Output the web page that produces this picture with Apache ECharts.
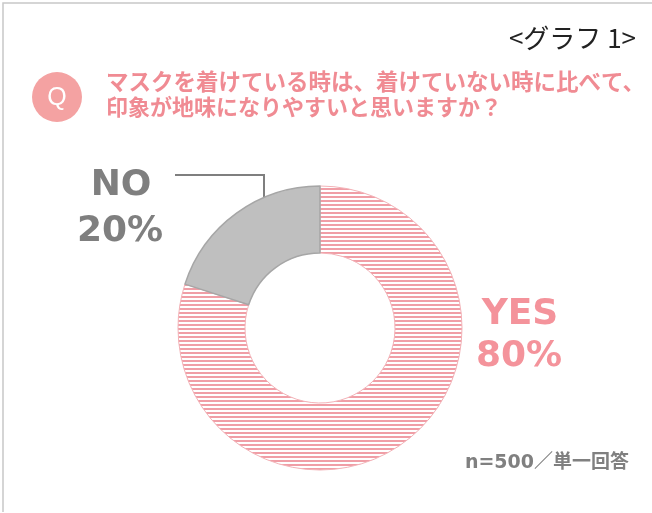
<!DOCTYPE html>
<html><head><meta charset="utf-8">
<script src="https://cdn.jsdelivr.net/npm/echarts@6/dist/echarts.min.js"></script>
<style>html,body{margin:0;padding:0;background:#fff}#c{width:652px;height:513px}</style>
</head><body><div id="c"></div>
<script>
const categories = ['YES', 'NO'];
const values = [80, 20];
const pctLabels = ['80%', '20%'];
const titleLines = ['マスクを着けている時は、着けていない時に比べて、', '印象が地味になりやすいと思いますか？'];
const graphLabel = '<グラフ 1>';
const noteText = 'n=500／単一回答';

const cv = document.createElement('canvas');
cv.width = 8; cv.height = 4;
const cx = cv.getContext('2d');
cx.fillStyle = '#ffffff'; cx.fillRect(0,0,8,4);
cx.fillStyle = '#f09ea6'; cx.fillRect(0,0,8,2);

const chart = echarts.init(document.getElementById('c'), null, {renderer:'canvas'});
const cjk = '"Noto Sans CJK JP", "Noto Sans", sans-serif';
const dv = '"DejaVu Sans", "Noto Sans CJK JP", sans-serif';
chart.setOption({
  animation:false,
  backgroundColor:'#fff',
  series:[{
    type:'pie',
    center:[320,328],
    radius:[75,142],
    startAngle:90,
    clockwise:true,
    label:{show:false},
    labelLine:{show:false},
    data:[
      {name:categories[0], value:values[0], itemStyle:{color:{image:cv, repeat:'repeat'}, borderColor:'#f3b3b8', borderWidth:1}},
      {name:categories[1], value:values[1], itemStyle:{color:'#bfbfbf', borderColor:'#a6a6a6', borderWidth:1.5}}
    ]
  }],
  graphic:[
    {type:'polyline', shape:{points:[[3,512],[3,3],[652,3]]}, style:{stroke:'#c8c8c8', lineWidth:1.5, fill:null}},
    {type:'text', style:{text:graphLabel, x:636, y:38, align:'right', verticalAlign:'middle', font:'26px '+cjk, fill:'#222'}},
    {type:'circle', shape:{cx:57, cy:97, r:25}, style:{fill:'#f4a2a2'}},
    {type:'text', style:{text:'Q', x:57, y:98, align:'center', verticalAlign:'middle', font:'25px "Liberation Sans", sans-serif', fill:'#fff'}},
    {type:'text', style:{text:titleLines[0], x:106, y:81, verticalAlign:'middle', font:'bold 22.5px '+cjk, fill:'#f08b93'}},
    {type:'text', style:{text:titleLines[1], x:106, y:107, verticalAlign:'middle', font:'bold 22px '+cjk, fill:'#f08b93'}},
    {type:'polyline', shape:{points:[[175,175],[264,175],[264,213]]}, style:{stroke:'#7f7f7f', lineWidth:2, fill:null}},
    {type:'text', style:{text:categories[1], x:121, y:186, align:'center', verticalAlign:'middle', font:'bold 36px "DejaVu Sans", sans-serif', fill:'#7f7f7f'}},
    {type:'text', style:{text:pctLabels[1], x:120, y:232, align:'center', verticalAlign:'middle', font:'bold 36px "DejaVu Sans", sans-serif', fill:'#7f7f7f'}},
    {type:'text', style:{text:categories[0], x:520, y:315, align:'center', verticalAlign:'middle', font:'bold 36px "DejaVu Sans", sans-serif', fill:'#f4939b'}},
    {type:'text', style:{text:pctLabels[0], x:519, y:357, align:'center', verticalAlign:'middle', font:'bold 36px "DejaVu Sans", sans-serif', fill:'#f4939b'}},
    {type:'text', style:{text:noteText, x:629, y:463, align:'right', verticalAlign:'middle', font:'bold 19px '+dv, fill:'#808080'}}
  ]
});
</script></body></html>
